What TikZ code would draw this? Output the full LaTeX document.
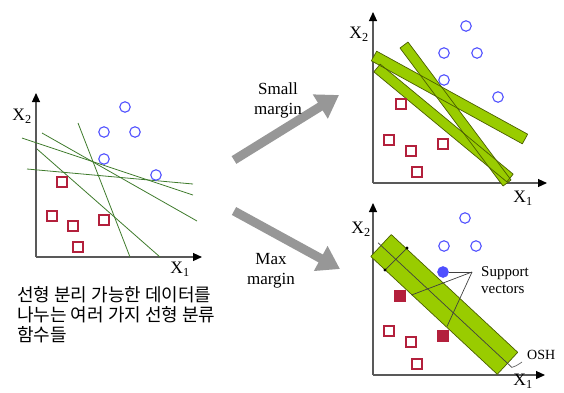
\documentclass[tikz,border=0pt]{standalone}
\usepackage{fontspec}
\setmainfont{Liberation Serif}
\newfontfamily\kor{Noto Sans CJK KR}
\usetikzlibrary{calc,arrows.meta}
\definecolor{ptblue}{HTML}{4F4FFF}
\definecolor{ptred}{HTML}{B3203C}
\definecolor{barlime}{HTML}{99CC00}
\definecolor{barline}{HTML}{4A5E00}
\definecolor{sepgreen}{HTML}{3F7B2C}
\definecolor{blockgray}{HTML}{979797}

\begin{document}
\begin{tikzpicture}[
  x=1pt, y=-1pt,
  font=\fontsize{15}{17}\selectfont,
  axis/.style={draw=black!65, line width=1.1pt, -{Triangle[length=9pt,width=8pt,black]}},
  lbl/.style={font=\fontsize{17.5}{19}\selectfont, inner sep=0pt},
  poscirc/.style={circle, draw=ptblue, line width=1.1pt, minimum size=10.5pt, inner sep=0pt},
  negsq/.style={rectangle, draw=ptred, line width=1.1pt, minimum size=10pt, inner sep=0pt},
  svfill/.style={fill=ptred, draw=ptred},
  sep/.style={draw=sepgreen, line width=0.8pt},
  barfill/.style={fill=barlime},
  baredge/.style={draw=barline, line width=0.7pt, line join=round},
  block/.style={draw=blockgray, line width=9pt, -{Triangle[length=22pt,width=27pt]}},
  guide/.style={draw=black!75, line width=0.7pt},
  mlabel/.style={align=center, inner sep=0pt, font=\fontsize{17}{20}\selectfont}
]
\useasboundingbox (0,0) rectangle (564,392);

% left panel: several separating lines
\draw[axis] (36,257) -- (36,93);
\draw[axis] (36,257) -- (202,257);
\node[lbl] (y1) at (22,116) {X\textsubscript{2}};
\node[lbl] (x1) at (180,269) {X\textsubscript{1}};
\draw[sep] (22,138) -- (193,195);
\draw[sep] (42,133) -- (197,221);
\draw[sep] (27,169) -- (193,184);
\draw[sep] (78,123) -- (130,257);
\draw[sep] (37,149) -- (160,257);
\foreach \x/\y [count=\i] in {125/107, 104/132, 135/132, 104/159, 156/175}
  \node[poscirc] (lp\i) at (\x,\y) {};
\foreach \x/\y [count=\i] in {62/182, 52/216, 73/226, 104/220, 78/247}
  \node[negsq] (ln\i) at (\x,\y) {};
\node[font=\kor\fontsize{18}{20}\selectfont, anchor=north west, align=left, inner sep=0pt] (caption) at (17,286)
  {선형 분리 가능한 데이터를\\나누는 여러 가지 선형 분류\\함수들};

% block arrows
\draw[block] (234,160) -- (339,95);
\draw[block] (234,211) -- (340,269);
\node[mlabel] (small) at (278,100) {Small\\margin};
\node[mlabel] (max) at (271,271) {Max\\margin};

% top right: small margin
\draw[axis] (373,183) -- (373,12);
\draw[axis] (373,183) -- (547,183);
\node[lbl] (y2) at (359,34) {X\textsubscript{2}};
\node[lbl] (x2) at (523,198) {X\textsubscript{1}};
\coordinate (a1) at (374,56);  \coordinate (a2) at (525,139);
\coordinate (b1) at (377,68);  \coordinate (b2) at (510,178);
\coordinate (c1) at (404,45);  \coordinate (c2) at (507,183);
\coordinate (d1) at (381,245.5); \coordinate (d2) at (507.5,363.3);
\foreach \i/\w in {a/5.5pt, b/5pt, c/5pt}
  \fill[barfill] ($(\i1)!\w!90:(\i2)$) -- ($(\i1)!\w!-90:(\i2)$)
    -- ($(\i2)!\w!90:(\i1)$) -- ($(\i2)!\w!-90:(\i1)$) -- cycle;
\foreach \i/\w in {a/5.5pt, b/5pt, c/5pt}
  \draw[baredge] ($(\i1)!\w!90:(\i2)$) -- ($(\i1)!\w!-90:(\i2)$)
    -- ($(\i2)!\w!90:(\i1)$) -- ($(\i2)!\w!-90:(\i1)$) -- cycle;
\foreach \x/\y [count=\i] in {466/26, 444/53, 477/53, 444/80, 498/97}
  \node[poscirc] (tp\i) at (\x,\y) {};
\foreach \x/\y [count=\i] in {401/104, 389/140, 411/151, 443/144, 417/172}
  \node[negsq] (tn\i) at (\x,\y) {};

% bottom right: maximum margin
\draw[axis] (373,375) -- (373,203);
\draw[axis] (373,375) -- (545,375);
\node[lbl] (y3) at (361,229) {X\textsubscript{2}};
\node[lbl] (x3) at (523,381) {X\textsubscript{1}};
\fill[barfill] ($(d1)!15pt!90:(d2)$) -- ($(d1)!15pt!-90:(d2)$)
  -- ($(d2)!15pt!90:(d1)$) -- ($(d2)!15pt!-90:(d1)$) -- cycle;
\draw[baredge] ($(d1)!15pt!90:(d2)$) -- ($(d1)!15pt!-90:(d2)$)
  -- ($(d2)!15pt!90:(d1)$) -- ($(d2)!15pt!-90:(d1)$) -- cycle;
\draw[guide] ($(d1)!-4pt!(d2)$) coordinate (osh1) -- ($(d2)!-6pt!(d1)$) coordinate (osh2);
\coordinate (m1) at (407,248);
\coordinate (m2) at (385,270);
\draw[guide] (m1) -- (m2);
\fill (m1) circle (1.6pt) (m2) circle (1.6pt);
\foreach \x/\y [count=\i] in {465/218, 444/246, 476/246}
  \node[poscirc] (bp\i) at (\x,\y) {};
\foreach \x/\y [count=\i] in {389/331, 411/342, 417/364}
  \node[negsq] (bn\i) at (\x,\y) {};
\node[poscirc, fill=ptblue] (sv1) at (443,272) {};
\node[negsq, svfill] (sv2) at (400,296) {};
\node[negsq, svfill] (sv3) at (443,336) {};
\node[anchor=west, align=left, inner sep=0pt] (svlab) at (481,280) {Support\\vectors};
\coordinate (svpt) at (472,272);
\draw[guide] (svpt) -- (sv1.east);
\draw[guide] (svpt) -- ($(sv2.east)+(6,-1)$);
\draw[guide] (svpt) -- ($(sv3.north)+(4,-4)$);
\node[anchor=west, inner sep=0pt, font=\fontsize{14}{16}\selectfont] (osh) at (527,355) {OSH};
\draw[guide, draw=black!60] (osh2) .. controls (516,366) .. (522,362);
\end{tikzpicture}
\end{document}
